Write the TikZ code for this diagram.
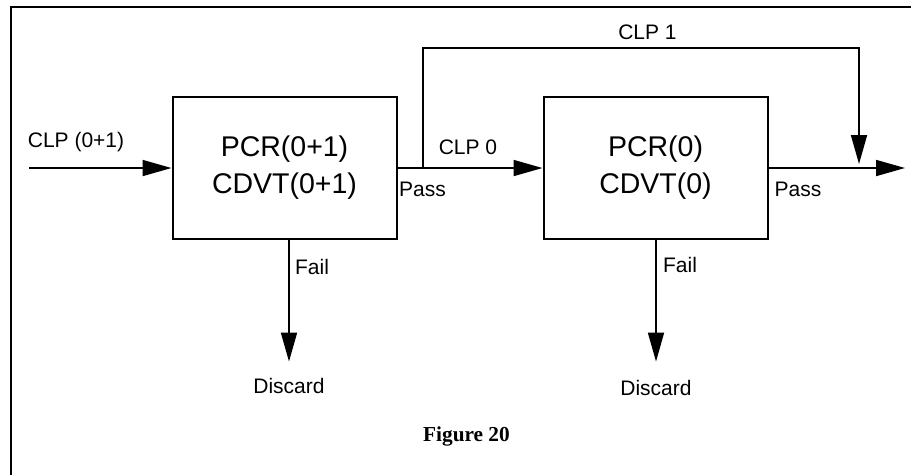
\documentclass[tikz,border=0pt]{standalone}
\usepackage{fontspec}
\setmainfont{Liberation Sans}
\newfontfamily\figfont{Liberation Serif}
\usetikzlibrary{arrows.meta, positioning}

\begin{document}
\begin{tikzpicture}[
    x=1pt, y=-1pt,
    box/.style={rectangle, draw, line width=2pt, minimum width=224pt, minimum height=142pt, align=center, font=\fontsize{28.5}{37}\selectfont},
    lbl/.style={inner sep=0pt, anchor=base, font=\fontsize{21}{25}\selectfont},
    arrow/.style={-{Triangle[length=29pt, width=16pt]}, line width=1.8pt}
]
    \useasboundingbox (0,0) rectangle (911,475);

    % Outer frame
    \draw[line width=2.5pt] (11,475) -- (11,7) -- (911,7);

    % Policing boxes
    \node[box] (pcr01) at (284.5,168) {PCR(0+1)\\CDVT(0+1)};
    \node[box, right=145pt of pcr01] (pcr0) {PCR(0)\\CDVT(0)};

    % End points
    \coordinate (in) at (29,168);
    \coordinate (out) at (905,168);
    \coordinate (split) at (423,168);
    \coordinate (merge) at (859,164);

    % Main flow
    \draw[arrow] (in) -- (pcr01);
    \draw[arrow] (pcr01) -- (pcr0);
    \draw[arrow] (pcr0) -- (out);

    % CLP 1 bypass
    \draw[arrow] (split) -- ++(0,-120) -| (merge);

    % Discard branches
    \node[lbl] (disc01) at (289,393) {Discard};
    \node[lbl] (disc0) at (656,395) {Discard};
    \draw[arrow, shorten >=16pt] (disc01 |- pcr01.south) -- (disc01.north);
    \draw[arrow, shorten >=18pt] (disc0 |- pcr0.south) -- (disc0.north);

    % Labels
    \node[lbl] (clpin) at (76,147) {CLP (0+1)};
    \node[lbl] (clp0) at (468,154) {CLP 0};
    \node[lbl] (clp1) at (647.5,39) {CLP 1};
    \node[lbl] (pass01) at (422.5,196) {Pass};
    \node[lbl] (pass0) at (798,196.5) {Pass};
    \node[lbl] (fail01) at (312,274) {Fail};
    \node[lbl] (fail0) at (680,272) {Fail};

    % Caption
    \node[lbl, font=\figfont\bfseries\fontsize{21.3}{25}\selectfont] (fig) at (466.5,441) {Figure 20};
\end{tikzpicture}
\end{document}
